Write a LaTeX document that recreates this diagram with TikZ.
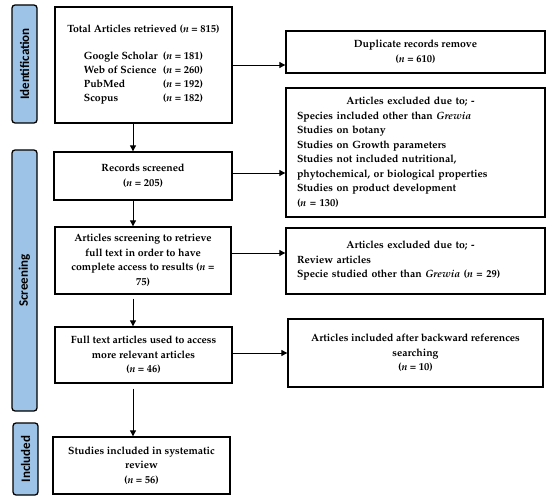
\documentclass[tikz,border=0pt]{standalone}
\usepackage[T1]{fontenc}
\usepackage{fontspec}
\newfontfamily\sidefont{Carlito}
\newcommand{\palfont}{\fontencoding{T1}\fontfamily{ppl}\fontseries{b}\fontsize{10.5}{14.5}\selectfont}
\usetikzlibrary{arrows.meta}
\definecolor{sideblue}{RGB}{157,195,230}
\tikzset{
  box/.style={draw=black, line width=1.3pt, fill=white, inner sep=0pt, align=center,
    font=\palfont},
  side/.style={draw=black, line width=1.3pt, fill=sideblue, rounded corners=3pt,
    minimum width=25pt, inner sep=0pt, font=\sidefont\bfseries\fontsize{13}{15}\selectfont},
  arr/.style={line width=0.9pt, -{Triangle[length=6pt,width=6pt]}}
}
\begin{document}
\begin{tikzpicture}[x=1pt,y=-1pt]
\useasboundingbox (0,0) rectangle (550,503);
% side labels
\node[side, minimum height=118pt] (sid) at (24.5,64) {\rotatebox{90}{Identification}};
\node[side, minimum height=261pt] (ssc) at (24.5,280.5) {\rotatebox{90}{Screening}};
\node[side, minimum height=72pt] (sin) at (25.5,459) {\rotatebox{90}{Included}};
% left column
\node[box, minimum width=177pt, minimum height=116pt] (tot) at (143.5,65) {%
  Total Articles retrieved (\textit{n} = 815)\\[14.5pt]
  \begin{tabular}{@{}l@{\ \ }l@{}}
  Google Scholar & (\textit{n} = 181)\\[-0.5pt]
  Web of Science & (\textit{n} = 260)\\[-0.5pt]
  PubMed & (\textit{n} = 192)\\[-0.5pt]
  Scopus & (\textit{n} = 182)
  \end{tabular}};
\node[box, minimum width=178pt, minimum height=48pt] (rec) at (143,176) {Records screened\\(\textit{n} = 205)};
\node[box, minimum width=176pt, minimum height=67pt] (scr) at (143,260.5) {Articles screening to retrieve\\full text in order to have\\complete access to results (\textit{n} =\\75)};
\node[box, minimum width=177pt, minimum height=56pt] (ful) at (143.5,355) {Full text articles used to access\\more relevant articles\\(\textit{n} = 46)};
\node[box, minimum width=177pt, minimum height=57pt] (stu) at (141.5,465.5) {Studies included in systematic\\review\\(\textit{n} = 56)};
% right column
\node[box, minimum width=259pt, minimum height=42pt] (dup) at (415.5,52) {Duplicate records remove\\(\textit{n} = 610)};
\node[box, minimum width=259pt, minimum height=129pt, text width=237pt, align=left] (ex1) at (415.5,152.5) {%
  \makebox[227pt][c]{Articles excluded due to; -}\\
  Species included other than \textit{Grewia}\\
  Studies on botany\\
  Studies on Growth parameters\\
  Studies not included nutritional,\\
  phytochemical, or biological properties\\
  Studies on product development\\
  (\textit{n} = 130)};
\node[box, minimum width=259pt, minimum height=66pt, text width=237pt, align=left] (ex2) at (415.5,261) {%
  \makebox[227pt][c]{Articles excluded due to; -}\\
  Review articles\\
  Specie studied other than \textit{Grewia} (\textit{n} = 29)};
\node[box, minimum width=255pt, minimum height=68pt] (inc) at (415.5,353) {Articles included after backward references\\searching\\(\textit{n} = 10)};
% horizontal arrows
\draw[arr] (tot.east) -- (tot.east -| dup.west);
\draw[arr] ([yshift=3pt]rec.east) -- ([yshift=3pt]rec.east -| ex1.west);
\draw[arr] ([yshift=7.5pt]scr.east) -- ([yshift=7.5pt]scr.east -| ex2.west);
\draw[arr] ([yshift=2pt]ful.east) -- ([yshift=2pt]ful.east -| inc.west);
% vertical arrows
\draw[arr] ([xshift=-10.5pt]tot.south) -- ([xshift=-10.5pt]tot.south |- rec.north);
\draw[arr] ([xshift=-10pt]rec.south) -- ([xshift=-10pt]rec.south |- scr.north);
\draw[arr, shorten <=4pt] ([xshift=-10pt]scr.south) -- ([xshift=-10pt]scr.south |- ful.north);
\draw[arr, shorten <=5pt] ([xshift=-10.5pt]ful.south) -- ([xshift=-10.5pt]ful.south |- stu.north);
\end{tikzpicture}
\end{document}
